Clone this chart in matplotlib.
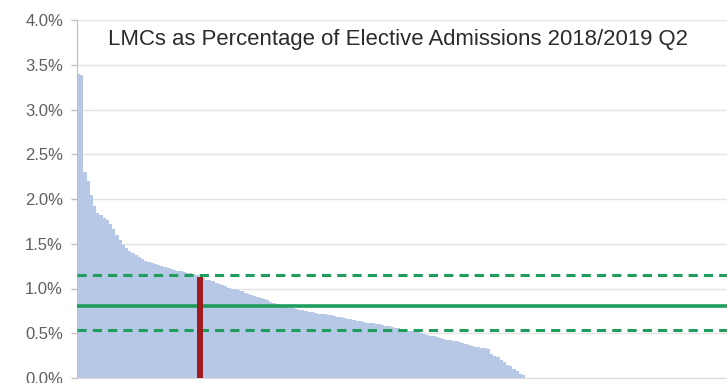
import numpy as np
import matplotlib
matplotlib.use('Agg')
import matplotlib.pyplot as plt
import matplotlib.ticker as ticker

TITLE = 'LMCs as Percentage of Elective Admissions 2018/2019 Q2'

# LMC rate per provider (%), sorted high to low
rates = [
    3.40, 3.38, 2.30, 2.20, 2.05, 1.92, 1.84, 1.82, 1.79, 1.76,
    1.72, 1.66, 1.60, 1.54, 1.49, 1.45, 1.42, 1.40, 1.37, 1.35,
    1.33, 1.31, 1.30, 1.28, 1.27, 1.26, 1.25, 1.24, 1.23, 1.22,
    1.21, 1.20, 1.19, 1.18, 1.17, 1.17, 1.16, 1.15, 1.13, 1.12,
    1.10, 1.09, 1.08, 1.06, 1.05, 1.04, 1.03, 1.01, 1.00, 0.99,
    0.98, 0.97, 0.95, 0.94, 0.93, 0.92, 0.90, 0.89, 0.88, 0.87,
    0.85, 0.84, 0.83, 0.82, 0.80, 0.79, 0.78, 0.78, 0.77, 0.76,
    0.76, 0.75, 0.74, 0.74, 0.73, 0.72, 0.72, 0.71, 0.70, 0.70,
    0.69, 0.68, 0.68, 0.67, 0.66, 0.66, 0.65, 0.64, 0.64, 0.63,
    0.62, 0.62, 0.61, 0.60, 0.60, 0.59, 0.58, 0.58, 0.57, 0.56,
    0.56, 0.55, 0.54, 0.53, 0.53, 0.52, 0.51, 0.50, 0.49, 0.48,
    0.47, 0.47, 0.46, 0.45, 0.44, 0.43, 0.42, 0.41, 0.41, 0.40,
    0.39, 0.38, 0.37, 0.36, 0.35, 0.35, 0.34, 0.33, 0.32, 0.27,
    0.25, 0.23, 0.20, 0.18, 0.15, 0.13, 0.10, 0.08, 0.05, 0.03,
]
n_slots = 203           # axis room (chart is cut off at the right)
highlight = 38          # index of the highlighted provider
mean_rate = 0.81
upper_limit = 1.15
lower_limit = 0.54

BAR = '#b7c8e6'
RED = '#9e1b1f'
GREEN = '#1f9d5c'
GREY = '#5f5f5f'

plt.rcParams['font.family'] = ['Liberation Sans', 'DejaVu Sans']

fig = plt.figure(figsize=(7.27, 3.83), dpi=100)
ax = fig.add_axes([77/727, 5/383, 650/727, 358/383])

x = np.arange(len(rates))
ax.bar(x, rates, width=1.0, color=BAR, linewidth=0, zorder=2)
ax.bar(highlight, rates[highlight], width=2.0, color=RED, linewidth=0, zorder=4)

ax.axhline(mean_rate, color=GREEN, linewidth=2.6, zorder=3)
for lim in (upper_limit, lower_limit):
    ax.axhline(lim, color=GREEN, linewidth=2.2, linestyle=(0, (3, 2)), zorder=3)

ax.set_xlim(-0.5, n_slots - 0.5)
ax.set_ylim(0, 4.0)
ax.yaxis.set_major_locator(ticker.MultipleLocator(0.5))
ax.yaxis.set_major_formatter(ticker.FuncFormatter(lambda v, _: f'{v:.1f}%'))
ax.set_xticks([])
ax.grid(axis='y', color='#e3e3e3', linewidth=1.0, zorder=0)
ax.set_axisbelow(True)
ax.tick_params(axis='y', length=4, width=1, color='#bfbfbf', pad=6,
               labelsize=12, labelcolor=GREY)
for s in ('top', 'right'):
    ax.spines[s].set_visible(False)
ax.spines['left'].set_color('#bfbfbf')
ax.spines['bottom'].set_color('#d9d9d9')

ax.text(0.494, 0.946, TITLE, transform=ax.transAxes, ha='center', va='center',
        fontsize=15.9, color='#2b2b2b')

fig.savefig('out.png', dpi=100)
